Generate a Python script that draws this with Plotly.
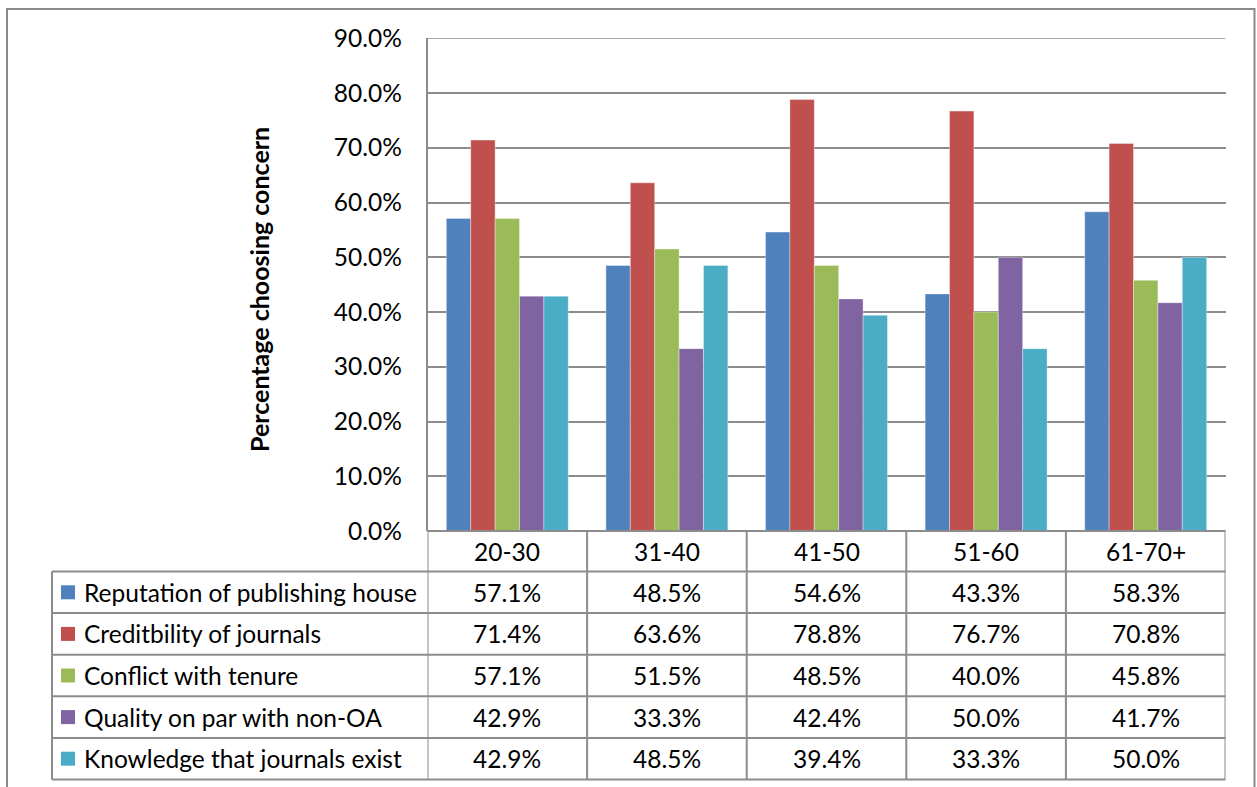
import plotly.graph_objects as go

W, H = 1257, 787

categories = ["20-30", "31-40", "41-50", "51-60", "61-70+"]
series_names = [
    "Reputation of publishing house",
    "Creditbility of journals",
    "Conflict with tenure",
    "Quality on par with non-OA",
    "Knowledge that journals exist",
]
reputation = [57.1, 48.5, 54.6, 43.3, 58.3]
credibility = [71.4, 63.6, 78.8, 76.7, 70.8]
conflict = [57.1, 51.5, 48.5, 40.0, 45.8]
quality = [42.9, 33.3, 42.4, 50.0, 41.7]
knowledge = [42.9, 48.5, 39.4, 33.3, 50.0]
series_values = [reputation, credibility, conflict, quality, knowledge]
colors = ["#4F81BD", "#C0504D", "#9BBB59", "#8064A2", "#4BACC6"]
y_title = "Percentage choosing concern"
y_max = 90

FONT = "Lato"
FS = 24.5
GRID = "#8c8c8c"


def px_x(p):
    return p / W


def px_y(p):
    return 1 - p / H


fig = go.Figure()
for name, vals, col in zip(series_names, series_values, colors):
    fig.add_trace(go.Bar(
        x=categories, y=vals, name=name,
        marker=dict(color=col, line=dict(color="rgba(255,255,255,0.45)", width=0.8)),
        hoverinfo="x+y+name",
    ))

plot_left, plot_right = 427.5, 1225.5
plot_top, plot_bottom = 38.3, 531.0

fig.update_layout(
    template="none",
    width=W, height=H,
    margin=dict(l=0, r=0, t=0, b=0, pad=0, autoexpand=False),
    paper_bgcolor="white", plot_bgcolor="white",
    showlegend=False,
    barmode="group", bargap=0.236, bargroupgap=0,
    font=dict(family=FONT, size=FS, color="black"),
    xaxis=dict(
        domain=[px_x(plot_left), px_x(plot_right)],
        range=[-0.5, len(categories) - 0.5],
        showticklabels=False, showgrid=False, zeroline=False,
        showline=False, ticks="", fixedrange=True, automargin=False,
    ),
    yaxis=dict(
        domain=[px_y(plot_bottom), px_y(plot_top)],
        range=[0, y_max], dtick=10, tickformat=".1f", ticksuffix="%",
        showgrid=True, gridcolor=GRID, gridwidth=1.5,
        zeroline=False, showline=True, linecolor=GRID, linewidth=1.5,
        ticks="", ticklabelstandoff=19,
        tickfont=dict(family=FONT, size=FS, color="black"),
        fixedrange=True, automargin=False,
    ),
)

shapes = []
shapes.append(dict(type="rect", xref="paper", yref="paper",
                   x0=px_x(7), x1=px_x(1254.5), y0=px_y(9), y1=-0.05,
                   line=dict(color="#8a8a8a", width=2), layer="below"))
# top gridline at the axis maximum
shapes.append(dict(type="line", xref="x", yref="y",
                   x0=-0.5, x1=len(categories) - 0.5, y0=y_max, y1=y_max,
                   line=dict(color=GRID, width=1.5)))

header_bottom = 571.5
row_h = 41.6
n_rows = len(series_names)
row_lines = [header_bottom + i * row_h for i in range(n_rows + 1)]
table_bottom = row_lines[-1]
legend_left = 52

for yl in row_lines:
    shapes.append(dict(type="line", xref="paper", yref="paper",
                       x0=px_x(legend_left), x1=px_x(plot_right),
                       y0=px_y(yl), y1=px_y(yl),
                       line=dict(color=GRID, width=2)))
shapes.append(dict(type="line", xref="paper", yref="paper",
                   x0=px_x(plot_left), x1=px_x(plot_right),
                   y0=px_y(plot_bottom), y1=px_y(plot_bottom),
                   line=dict(color=GRID, width=2)))
for i in range(len(categories) + 1):
    shapes.append(dict(type="line", xref="x", yref="paper",
                       x0=i - 0.5, x1=i - 0.5,
                       y0=px_y(plot_bottom), y1=px_y(table_bottom),
                       line=dict(color=GRID, width=2)))
shapes.append(dict(type="line", xref="paper", yref="paper",
                   x0=px_x(legend_left), x1=px_x(legend_left),
                   y0=px_y(header_bottom), y1=px_y(table_bottom),
                   line=dict(color=GRID, width=2)))

annotations = []
header_center = (plot_bottom + header_bottom) / 2 + 0.5
for c in categories:
    annotations.append(dict(x=c, y=px_y(header_center), xref="x", yref="paper",
                            text=c, showarrow=False, xanchor="center", yanchor="middle",
                            font=dict(family=FONT, size=FS, color="black")))

for r, (name, vals, col) in enumerate(zip(series_names, series_values, colors)):
    yc = row_lines[r] + row_h / 2
    shapes.append(dict(type="rect", xref="paper", yref="paper",
                       x0=px_x(61), x1=px_x(75), y0=px_y(yc - 7), y1=px_y(yc + 7),
                       fillcolor=col, line=dict(width=0)))
    annotations.append(dict(x=px_x(82), y=px_y(yc), xref="paper", yref="paper",
                            text=name, showarrow=False, xanchor="left", yanchor="middle",
                            font=dict(family=FONT, size=FS, color="black")))
    for c, v in zip(categories, vals):
        annotations.append(dict(x=c, y=px_y(yc), xref="x", yref="paper",
                                text=f"{v:.1f}%", showarrow=False,
                                xanchor="center", yanchor="middle",
                                font=dict(family=FONT, size=FS, color="black")))

annotations.append(dict(x=px_x(259), y=px_y(290), xref="paper", yref="paper",
                        text=f"<b>{y_title}</b>", showarrow=False, textangle=-90,
                        xanchor="center", yanchor="middle",
                        font=dict(family=FONT, size=25, color="black")))

fig.update_layout(shapes=shapes, annotations=annotations)
fig.write_html(
    "out.html",
    config={"displayModeBar": False},
    post_script="document.body.style.margin='0';document.body.style.overflow='hidden';",
)
